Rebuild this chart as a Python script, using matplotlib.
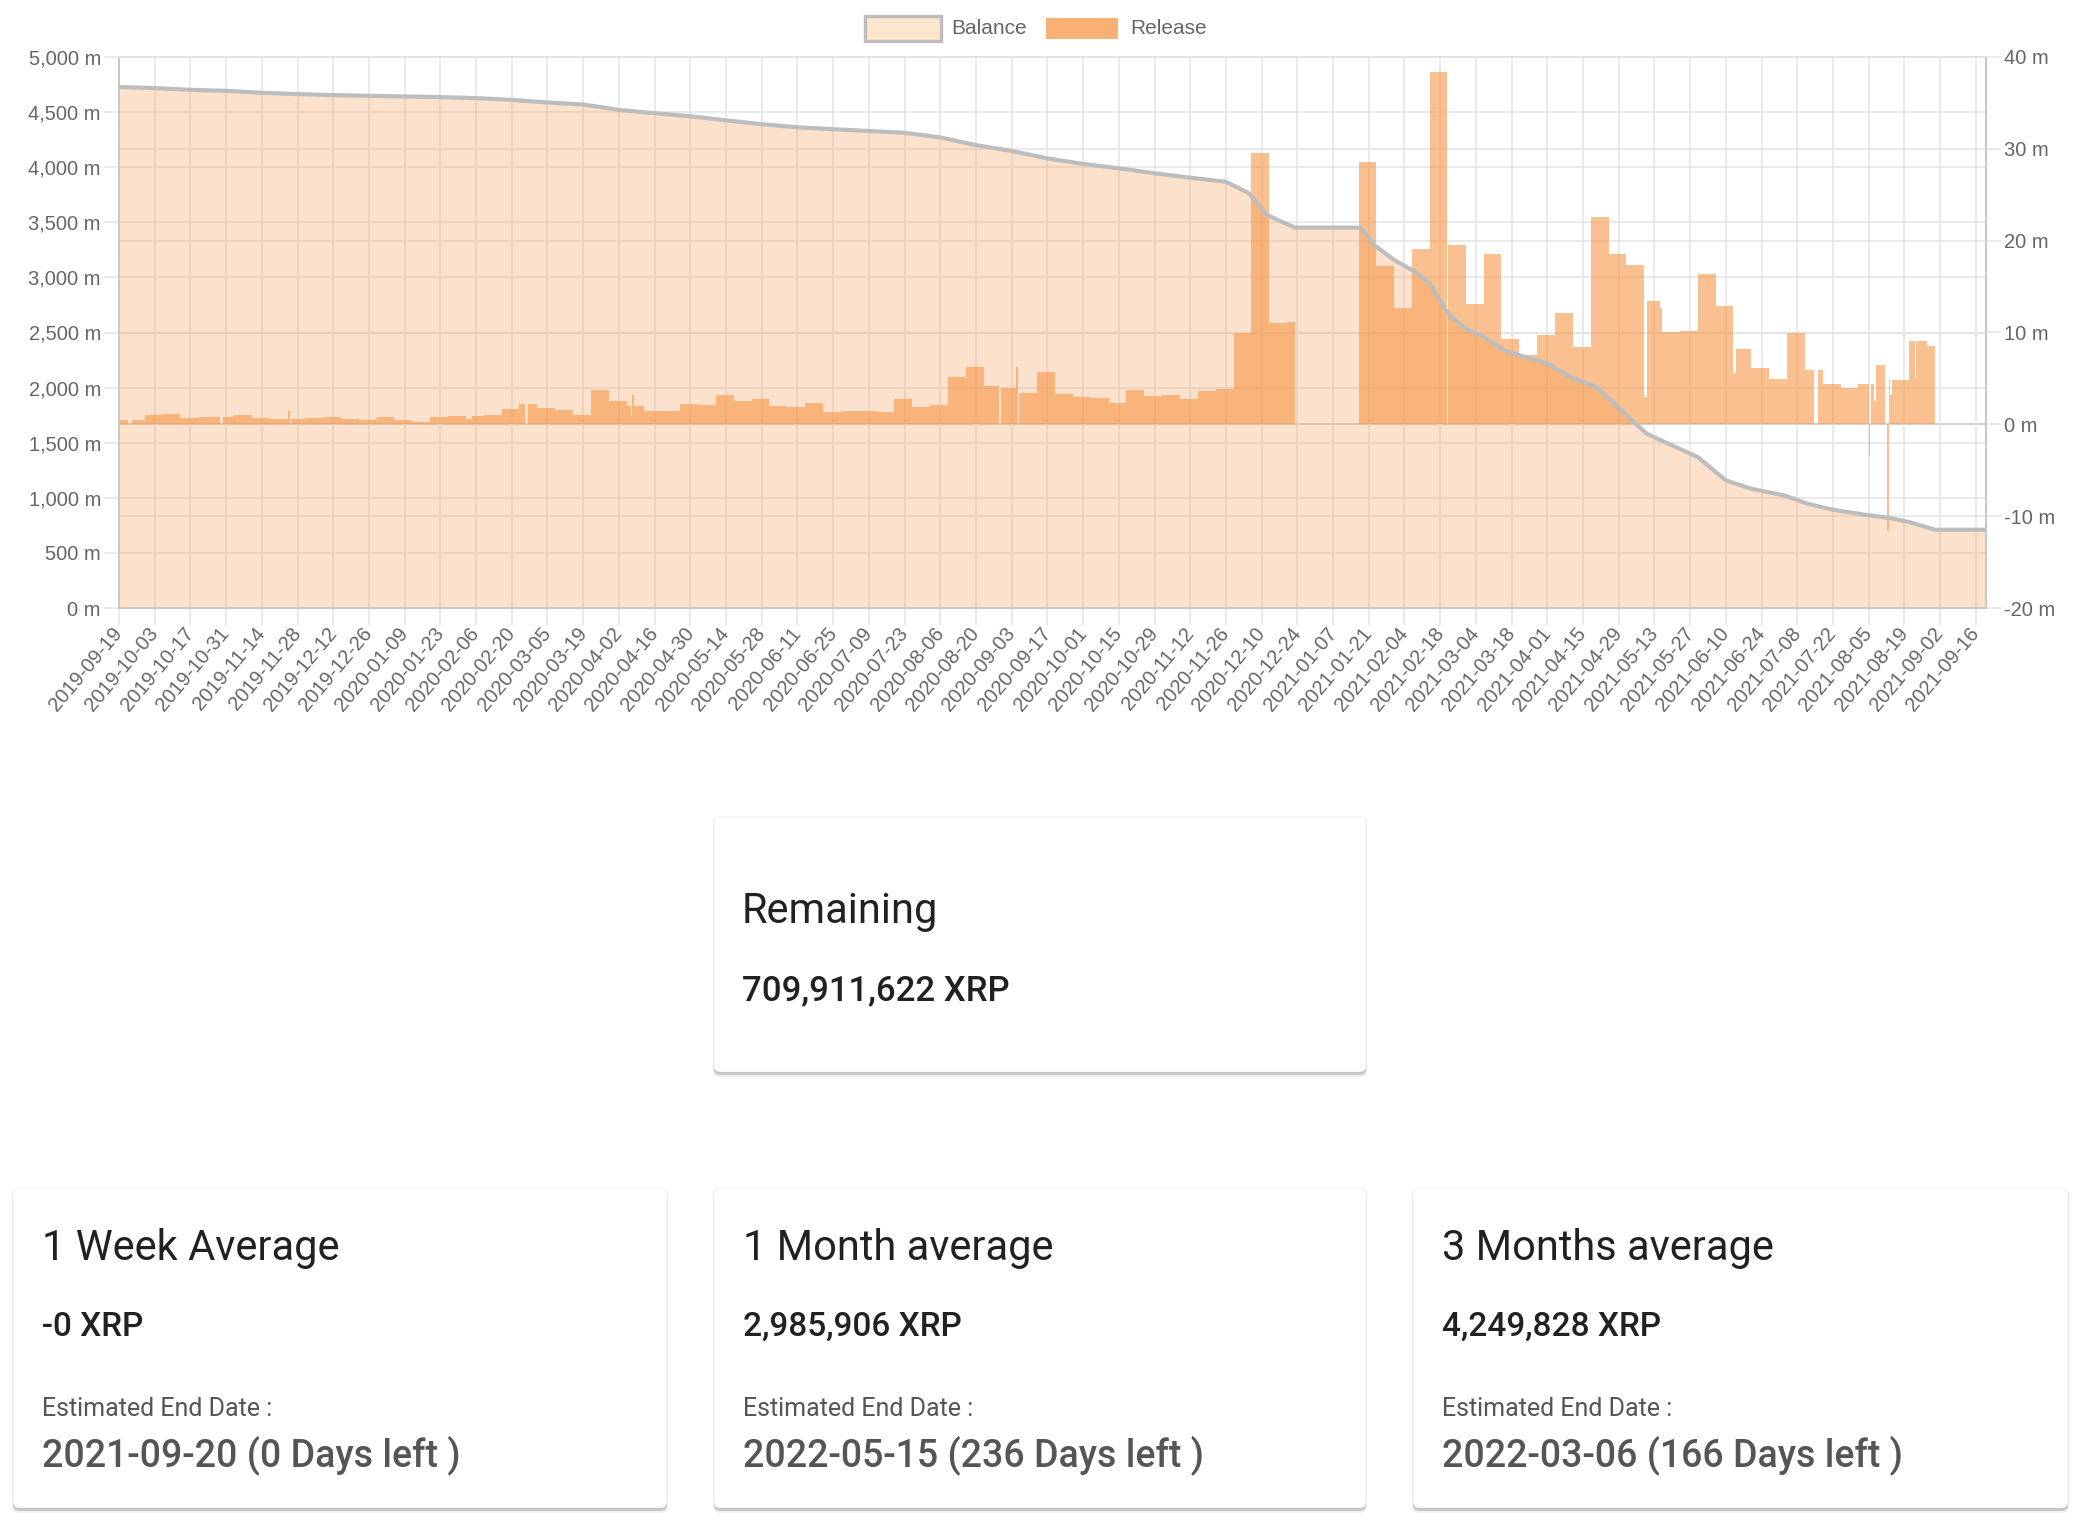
import numpy as np
import matplotlib.pyplot as plt
import matplotlib.dates as mdates
from matplotlib.patches import FancyBboxPatch, Rectangle
from matplotlib.ticker import FuncFormatter, MultipleLocator

# balance of the escrow wallet (millions XRP), read at points along the line
bal_dates = ['2019-09-19', '2019-10-03', '2019-10-17', '2019-10-31', '2019-11-14', '2019-11-28',
             '2019-12-12', '2019-12-26', '2020-01-09', '2020-01-23', '2020-02-06', '2020-02-20',
             '2020-03-05', '2020-03-19', '2020-04-02', '2020-04-16', '2020-04-30', '2020-05-14',
             '2020-05-28', '2020-06-11', '2020-06-25', '2020-07-09', '2020-07-23', '2020-08-06',
             '2020-08-20', '2020-09-03', '2020-09-17', '2020-10-01', '2020-10-15', '2020-10-29',
             '2020-11-12', '2020-11-26', '2020-12-05', '2020-12-12', '2020-12-23', '2021-01-18',
             '2021-01-23', '2021-01-31', '2021-02-08', '2021-02-14', '2021-02-21', '2021-02-28',
             '2021-03-07', '2021-03-15', '2021-03-23', '2021-04-01', '2021-04-10', '2021-04-20',
             '2021-04-28', '2021-05-06', '2021-05-10', '2021-05-17', '2021-05-30', '2021-06-10',
             '2021-06-20', '2021-07-03', '2021-07-12', '2021-07-22', '2021-08-04', '2021-08-13',
             '2021-08-21', '2021-08-31', '2021-09-20']
bal_vals = [4727, 4718, 4702, 4693, 4675, 4663,
            4654, 4648, 4642, 4636, 4627, 4611,
            4587, 4569, 4520, 4490, 4462, 4425,
            4390, 4362, 4345, 4328, 4312, 4270,
            4200, 4148, 4080, 4030, 3990, 3945,
            3905, 3868, 3764, 3567, 3452, 3452,
            3294, 3158, 3052, 2945, 2673, 2536,
            2461, 2340, 2279, 2218, 2097, 2006,
            1839, 1665, 1582, 1506, 1370, 1158,
            1082, 1021, 946, 891, 845, 818,
            779, 710, 710]

# daily release (millions XRP): each value holds from its date until the next one
rel_from = ['2019-09-19', '2019-09-22T14', '2019-09-24', '2019-09-29', '2019-10-06', '2019-10-13',
            '2019-10-20', '2019-10-28T14', '2019-10-29T14', '2019-11-03', '2019-11-10', '2019-11-17',
            '2019-11-24T08', '2019-11-24T22', '2019-11-25T14', '2019-12-01', '2019-12-08', '2019-12-15',
            '2019-12-22', '2019-12-29', '2020-01-05', '2020-01-12', '2020-01-19', '2020-01-26',
            '2020-02-02', '2020-02-04T12', '2020-02-09', '2020-02-16', '2020-02-23', '2020-02-25T04',
            '2020-02-26T06', '2020-03-01', '2020-03-08', '2020-03-15', '2020-03-22', '2020-03-29',
            '2020-04-05', '2020-04-06T16', '2020-04-07T06', '2020-04-07T22', '2020-04-12', '2020-04-19',
            '2020-04-26', '2020-05-03', '2020-05-10', '2020-05-17', '2020-05-24', '2020-05-31',
            '2020-06-07', '2020-06-14', '2020-06-21', '2020-06-28', '2020-07-05', '2020-07-12',
            '2020-07-19', '2020-07-26', '2020-08-02', '2020-08-09', '2020-08-16', '2020-08-23',
            '2020-08-29', '2020-08-29T22', '2020-09-04T20', '2020-09-05T10', '2020-09-06', '2020-09-13',
            '2020-09-20', '2020-09-27', '2020-10-04', '2020-10-11', '2020-10-18', '2020-10-25',
            '2020-11-01', '2020-11-08', '2020-11-15', '2020-11-22', '2020-11-29', '2020-12-06',
            '2020-12-13', '2020-12-20', '2020-12-23', '2021-01-17', '2021-01-24', '2021-01-31',
            '2021-02-07', '2021-02-14', '2021-02-20T12', '2021-02-21T02', '2021-02-28', '2021-03-07',
            '2021-03-14', '2021-03-21', '2021-03-28', '2021-04-04', '2021-04-11', '2021-04-18',
            '2021-04-25', '2021-05-02', '2021-05-09', '2021-05-10', '2021-05-15', '2021-05-16',
            '2021-05-23', '2021-05-30', '2021-06-06', '2021-06-13', '2021-06-14', '2021-06-20',
            '2021-06-27', '2021-07-04', '2021-07-11', '2021-07-14T16', '2021-07-16', '2021-07-18',
            '2021-07-25', '2021-08-01', '2021-08-05', '2021-08-05T16', '2021-08-06', '2021-08-07',
            '2021-08-08', '2021-08-11T14', '2021-08-12T06', '2021-08-12T22', '2021-08-13T06', '2021-08-14',
            '2021-08-21', '2021-08-23', '2021-08-23T16', '2021-08-28', '2021-08-31']
rel_val = [0.47, 0, 0.47, 1.05, 1.16, 0.73,
           0.84, 0, 0.84, 0.98, 0.73, 0.62,
           1.45, 0, 0.55, 0.69, 0.76, 0.55,
           0.44, 0.80, 0.44, 0.29, 0.76, 0.91,
           0.62, 0.95, 0.98, 1.71, 2.25, 0,
           2.25, 1.82, 1.56, 0.98, 3.71, 2.51,
           2.0, 0.84, 3.2, 2.04, 1.49, 1.40,
           2.22, 2.07, 3.16, 2.51, 2.73, 1.96,
           1.89, 2.29, 1.38, 1.45, 1.45, 1.38,
           2.80, 1.85, 2.11, 5.13, 6.22, 4.22,
           0, 3.96, 6.2, 0, 3.38, 5.71,
           3.31, 2.95, 2.84, 2.29, 3.75, 3.05,
           3.16, 2.73, 3.66, 3.88, 9.9, 29.6,
           11.0, 11.1, 0, 28.6, 17.2, 12.7,
           19.1, 38.4, 0, 19.5, 13.1, 18.5,
           9.3, 7.5, 9.7, 12.1, 8.4, 22.6,
           18.5, 17.3, 3.0, 13.4, 12.7, 10.0,
           10.2, 16.4, 12.9, 5.6, 8.2, 6.1,
           4.9, 9.9, 5.9, 0, 5.9, 4.4,
           4.0, 4.4, -3.5, 0, 4.4, 2.5,
           6.5, 0, -11.6, 4.8, 3.2, 4.8,
           9.1, 4.9, 9.1, 8.5, 0]
rel_until = '2021-09-20'

x_start, x_end = '2019-09-19', '2021-09-20'

# summary cards
remaining = '709,911,622 XRP'
card_titles = ['1 Week Average', '1 Month average', '3 Months average']
card_values = ['-0 XRP', '2,985,906 XRP', '4,249,828 XRP']
card_dates = ['2021-09-20 (0 Days left )', '2022-05-15 (236 Days left )', '2022-03-06 (166 Days left )']

W, H = 2076, 1528
ORANGE = (247 / 255, 150 / 255, 70 / 255)
GRID = '#e4e4e4'
TICK = '#666666'
TFONT = 'Liberation Sans'

# faint light stripes on the bars, like the daily bars of the original
plt.rcParams['hatch.color'] = (1, 1, 1, 0.45)
plt.rcParams['hatch.linewidth'] = 0.45

fig = plt.figure(figsize=(W / 100, H / 100), dpi=100)


def fx(px):
    return px / W


def fy(py):
    return 1 - py / H


left, right, top, bottom = 119, 1986, 57, 608
ax = fig.add_axes([fx(left), fy(bottom), (right - left) / W, (bottom - top) / H])
ax2 = ax.twinx()

bx = mdates.date2num(np.array(bal_dates, dtype='datetime64[h]'))
ax.fill_between(bx, bal_vals, 0, color=ORANGE, alpha=0.27, lw=0, zorder=1)

rs = mdates.date2num(np.array(rel_from, dtype='datetime64[h]'))
re_ = np.append(rs[1:], mdates.date2num(np.datetime64(rel_until, 'h')))
ax2.bar(rs, rel_val, width=re_ - rs, align='edge', color=ORANGE, alpha=0.6, lw=0,
        hatch='||||||', edgecolor='none', zorder=2)

# balance line above the bars
ax2.plot(bx, bal_vals, color='#bdbdbd', lw=3, solid_joinstyle='round',
         transform=ax.transData, zorder=3)

ax.set_xlim(mdates.date2num(np.datetime64(x_start)), mdates.date2num(np.datetime64(x_end)))
ax.set_ylim(0, 5000)
ax2.set_ylim(-20, 40)

xt = np.arange(np.datetime64(x_start), np.datetime64(x_end), 14)
ax.set_xticks(mdates.date2num(xt))
ax.set_xticklabels([str(d) for d in xt], rotation=50, ha='right', va='center',
                   rotation_mode='anchor', fontsize=14.5, color=TICK, family=TFONT)
ax.yaxis.set_major_locator(MultipleLocator(500))
ax2.yaxis.set_major_locator(MultipleLocator(10))
ax.yaxis.set_major_formatter(FuncFormatter(lambda v, p: f'{v:,.0f} m'))
ax2.yaxis.set_major_formatter(FuncFormatter(lambda v, p: f'{v:.0f} m'))
for a in (ax, ax2):
    for lab in a.get_yticklabels():
        lab.set_family(TFONT)
ax.tick_params(axis='x', length=12, width=1.1, color=GRID, pad=4)
ax.tick_params(axis='y', length=11, width=1.1, color=GRID, labelsize=14.5, labelcolor=TICK, pad=2)
ax2.tick_params(axis='y', length=11, width=1.1, color=GRID, labelsize=14.5, labelcolor=TICK, pad=2)

ax.set_axisbelow(True)
ax.grid(True, color=GRID, lw=1.1, zorder=0)
# horizontal grid of the right axis, drawn on the left axis so it stays under the fill
l0, l1 = ax.get_ylim()
r0, r1 = ax2.get_ylim()
for v in ax2.get_yticks():
    if r0 <= v <= r1:
        yl = l0 + (v - r0) * (l1 - l0) / (r1 - r0)
        ax.axhline(yl, color='#cfcfcf' if v == 0 else GRID, lw=1.3 if v == 0 else 1.1, zorder=0.5)

for a in (ax, ax2):
    for s in a.spines.values():
        s.set_color('#c8c8c8')
        s.set_linewidth(1.3)
    a.spines['top'].set_color(GRID)

# legend
fig.add_artist(Rectangle((fx(865), fy(41)), 76 / W, 25 / H, transform=fig.transFigure,
                         facecolor='#fde6cf', edgecolor='#bdbdbd', lw=2.4))
fig.text(fx(951), fy(29), 'Balance', fontsize=15, color=TICK, family=TFONT, va='center')
fig.add_artist(Rectangle((fx(1046), fy(39)), 72 / W, 21 / H, transform=fig.transFigure,
                         facecolor='#f8b074', edgecolor='none'))
fig.text(fx(1130), fy(29), 'Release', fontsize=15, color=TICK, family=TFONT, va='center')


def card(x0, x1, y0, y1):
    w, h = x1 - x0, y1 - y0
    # soft material shadow, then the white card
    fig.add_artist(FancyBboxPatch((x0 - 1, H - y1 - 5), w + 2, h + 4, transform=None,
                                  boxstyle='round,pad=0,rounding_size=7',
                                  facecolor=(0, 0, 0, 0.06), edgecolor='none'))
    fig.add_artist(FancyBboxPatch((x0, H - y1 - 3), w, h + 1, transform=None,
                                  boxstyle='round,pad=0,rounding_size=6',
                                  facecolor=(0, 0, 0, 0.16), edgecolor='none'))
    fig.add_artist(FancyBboxPatch((x0, H - y1), w, h, transform=None,
                                  boxstyle='round,pad=0,rounding_size=6',
                                  facecolor='white', edgecolor=(0, 0, 0, 0.05), lw=0.8))


CF = 'Roboto'
card(714, 1366, 817, 1072)
fig.text(fx(742), fy(923), 'Remaining', fontsize=30, color='#212121', family=CF, va='baseline')
fig.text(fx(742), fy(1000), remaining, fontsize=25, color='#212121', family=CF,
         weight='medium', va='baseline')

for (x0, x1), t, v, d in zip([(13, 667), (714, 1366), (1413, 2068)], card_titles, card_values, card_dates):
    card(x0, x1, 1188, 1508)
    tx = x0 + 29
    fig.text(fx(tx), fy(1260), t, fontsize=30, color='#212121', family=CF, va='baseline')
    fig.text(fx(tx), fy(1336), v, fontsize=24, color='#212121', family=CF, weight='medium', va='baseline')
    fig.text(fx(tx), fy(1416), 'Estimated End Date :', fontsize=18, color='#555555', family=CF, va='baseline')
    fig.text(fx(tx), fy(1466), d, fontsize=27, color='#555555', family=CF, weight='medium', va='baseline')

fig.savefig('out.png', dpi=100, facecolor='white')
